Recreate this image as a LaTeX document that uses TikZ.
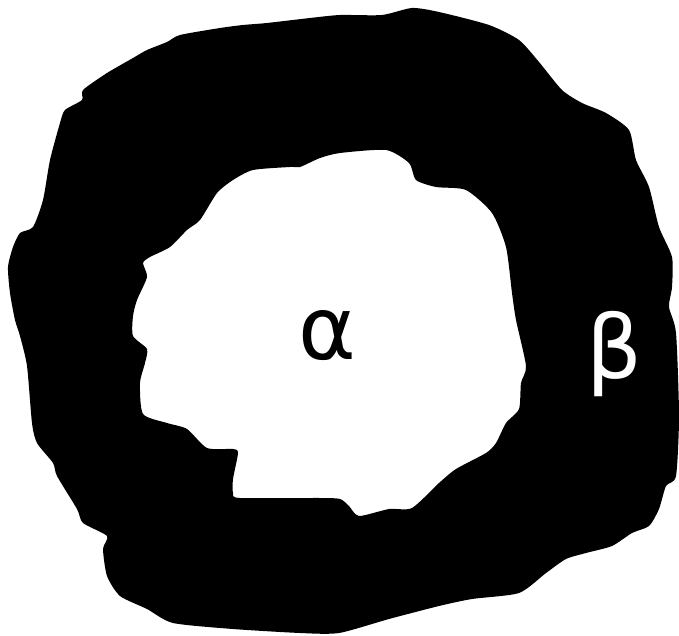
\documentclass[tikz,border=0pt]{standalone}
\usepackage{fontspec}
\setmainfont{DejaVu Sans}
\tikzset{
  ring/.style={fill=black, draw=none, even odd rule},
  phaselabel/.style={font=\fontsize{88}{88}\selectfont, inner sep=0pt, anchor=center}
}

\begin{document}
\begin{tikzpicture}[x=1bp, y=-1bp]

\useasboundingbox (0,0) rectangle (679,636);

% grain boundary ring (outer rim, then inner hole)
\fill[ring]
  plot[smooth cycle, tension=0.4] coordinates {
    (340,15) (382,15) (412,8) (439,12) (489,25) (519,40) (539,62) (562,90)
    (582,103) (606,113) (629,130) (636,160) (649,187) (659,227) (672,257)
    (672,287) (669,307) (676,333) (679,416) (676,476) (666,486) (659,509)
    (649,526) (632,533) (612,546) (586,553) (566,559) (546,573) (519,593)
    (472,599) (439,606) (389,619) (339,633) (300,633) (233,629) (173,623)
    (147,609) (120,596) (107,576) (103,549) (107,536) (83,523) (77,509)
    (57,476) (53,463) (37,443) (32,423) (27,366) (20,336) (15,320) (10,293)
    (8,267) (13,247) (20,233) (33,227) (43,200) (50,160) (60,123) (65,110)
    (82,100) (83,90) (107,73) (133,58) (147,50) (167,42) (180,35) (220,28)
    (243,25) (267,23) (310,18)}
  plot[smooth cycle, tension=0.4] coordinates {
    (340,153) (386,150) (409,163) (416,180) (436,187) (466,190) (492,213)
    (506,247) (512,293) (516,320) (526,366) (521,383) (519,409) (506,423)
    (496,443) (486,453) (456,469) (439,483) (412,508) (389,509) (359,516)
    (349,506) (340,499) (320,498) (240,498) (233,493) (233,479) (238,453)
    (233,449) (207,448) (187,429) (167,423) (143,414) (140,383) (145,363)
    (147,349) (133,336) (133,316) (137,300) (147,277) (143,263) (150,257)
    (170,247) (187,230) (200,220) (217,193) (233,180) (253,170) (290,167)
    (300,167) (320,158)};

% phase labels
\node[phaselabel]              (alpha) at (327,336) {α};
\node[phaselabel, text=white]  (beta)  at (614,354) {β};

\end{tikzpicture}
\end{document}
